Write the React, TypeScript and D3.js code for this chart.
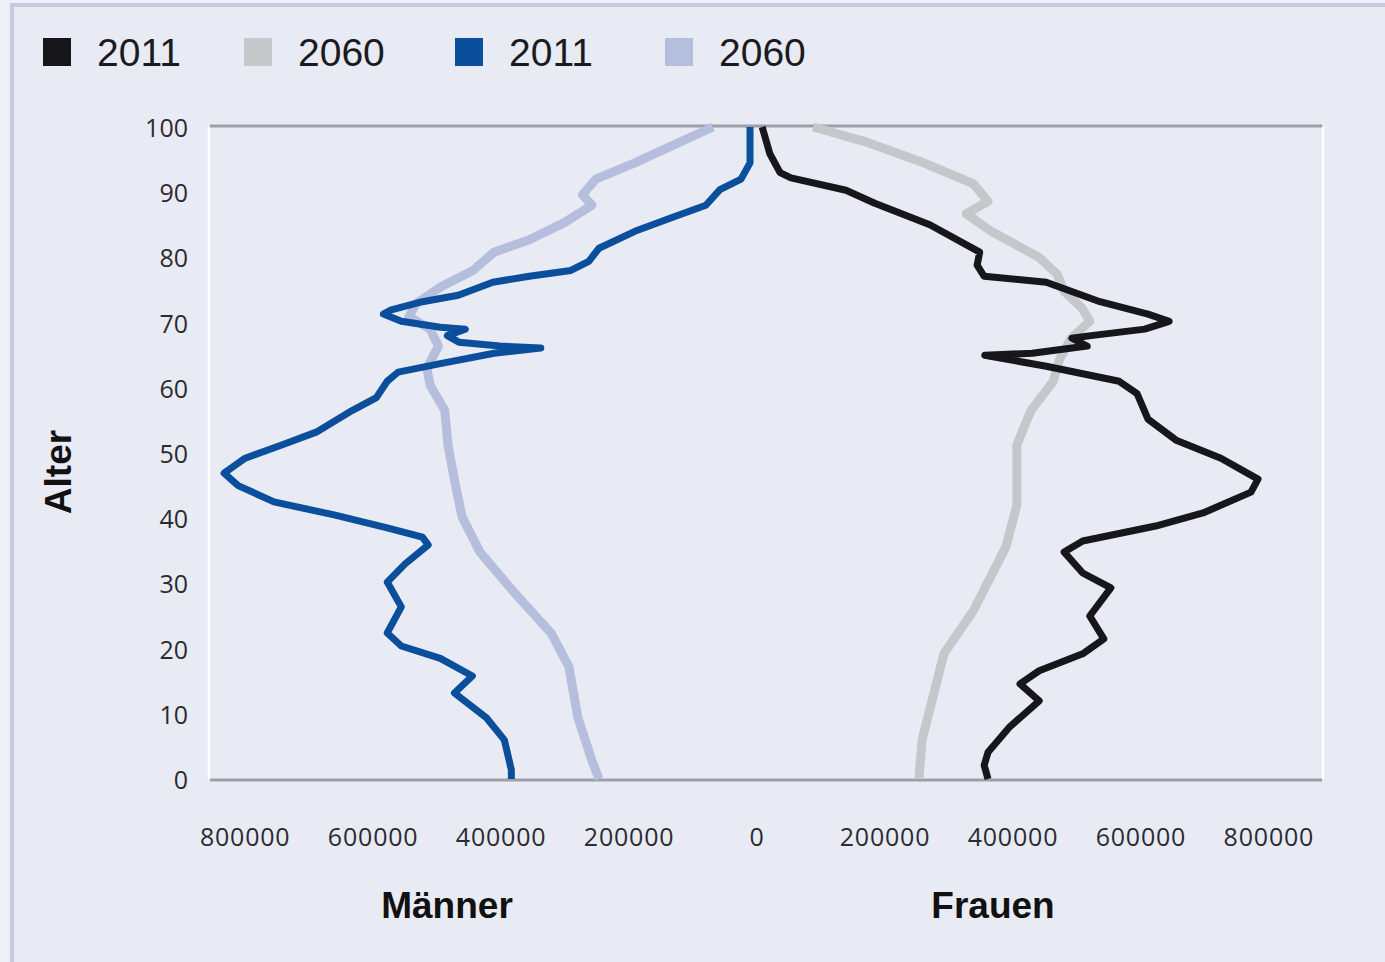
import React from 'react';
import * as d3 from 'd3';

// ---- Data (age, persons) ----
const maenner2011: [number, number][] = [
  [0, 384000], [1.4, 384000], [6, 395000], [9.4, 423000], [13.2, 473000], [15.8, 445000],
  [18.5, 495000], [20.4, 556000], [22.4, 578000], [26.4, 556000], [30.2, 578000], [33, 550000],
  [35.9, 514000], [37.1, 523000], [38.5, 578000], [40.5, 661000], [42.5, 755000], [45, 811000],
  [46.9, 833000], [49.2, 800000], [51.2, 744000], [53.2, 689000], [56.5, 633000], [58.5, 595000],
  [61, 578000], [62.4, 561000], [63.7, 495000], [65.3, 411000], [66.1, 338000], [66.4, 402000],
  [67, 466000], [68, 484000], [69, 456000], [69.3, 495000], [70.2, 556000], [71.3, 584000],
  [71.9, 573000], [73.2, 523000], [74.2, 467000], [76.2, 413000], [77.1, 356000], [78, 291000],
  [79.4, 263000], [81.4, 247000], [84, 191000], [86, 136000], [88, 80000], [90.4, 58000],
  [92, 25000], [94.5, 11000], [100, 11000],
];

const maenner2060: [number, number][] = [
  [0, 247000], [2.8, 258000], [9.4, 280000], [17.2, 294000], [22.4, 322000], [29, 383000],
  [34.8, 433000], [40.2, 461000], [45.4, 472000], [51.2, 483000], [56.5, 488000], [60.4, 511000],
  [63, 516000], [66.4, 498000], [69, 511000], [70.9, 544000], [72.9, 533000], [75.5, 494000],
  [78, 444000], [80.8, 411000], [82.7, 356000], [85.3, 302000], [88, 258000], [89.6, 273000],
  [92, 252000], [94.5, 191000], [97, 136000], [100, 69000],
];

const frauen2011: [number, number][] = [
  [0, 361000], [2.1, 355000], [4.1, 361000], [8, 395000], [12, 441000], [14.6, 411000],
  [16.6, 441000], [19.2, 509000], [21.5, 542000], [25, 520000], [29.3, 553000], [31.6, 509000],
  [34.8, 480000], [36.5, 509000], [38.8, 623000], [40.8, 697000], [44, 772000], [46, 783000],
  [49.2, 725000], [51.9, 656000], [55.2, 611000], [59.1, 594000], [61, 566000], [63.3, 452000],
  [65, 356000], [65.3, 430000], [66.4, 516000], [67.6, 492000], [68, 522000], [69, 606000],
  [70.2, 644000], [71.3, 611000], [73.2, 536000], [76.2, 452000], [77.1, 355000], [78.8, 344000],
  [80.8, 348000], [85, 270000], [88.3, 184000], [90.3, 139000], [92.2, 53000], [93, 36000],
  [95.9, 20000], [100, 8000],
];

const frauen2060: [number, number][] = [
  [0, 253000], [6, 258000], [12.6, 275000], [19.2, 292000], [25.8, 338000], [35.6, 389000],
  [42, 406000], [51.2, 406000], [56.5, 428000], [61, 463000], [64.4, 473000], [67.6, 491000],
  [70.2, 520000], [72.2, 508000], [74.8, 480000], [77.4, 469000], [80, 441000], [84, 366000],
  [86.7, 327000], [88.6, 361000], [91.3, 338000], [94.8, 253000], [97.8, 167000], [100, 88000],
];

const legendLabels = ['2011', '2060', '2011', '2060'];
const legendColors = ['#17161b', '#c5c8ca', '#0b4f9c', '#b6bedd'];
const xTickValues = [-800000, -600000, -400000, -200000, 0, 200000, 400000, 600000, 800000];
const yTickValues = [0, 10, 20, 30, 40, 50, 60, 70, 80, 90, 100];
const sideLabels = ['Männer', 'Frauen'];

const W = 1385;
const H = 962;
const BG = '#e8eaf4';

export default function App() {
  const x = d3.scaleLinear().domain([-855000, 883000]).range([210, 1322]);
  const y = d3.scaleLinear().domain([0, 100]).range([779, 127]);

  const lineFor = (sign: number) =>
    d3
      .line<[number, number]>()
      .x((d) => x(sign * d[1]))
      .y((d) => y(d[0]));

  const menLine = lineFor(-1);
  const womenLine = lineFor(1);

  const series = [
    { d: menLine(maenner2060), color: legendColors[3], w: 9 },
    { d: womenLine(frauen2060), color: legendColors[1], w: 9 },
    { d: menLine(maenner2011), color: legendColors[2], w: 7 },
    { d: womenLine(frauen2011), color: legendColors[0], w: 7 },
  ];

  const legendX = [43, 244, 455, 665];

  return (
    <svg
      width={W}
      height={H}
      style={{ position: 'absolute', left: 0, top: 0, display: 'block' }}
    >
      <rect x={0} y={0} width={W} height={H} fill="#eef0f8" />
      <rect x={12} y={5} width={W + 20} height={H + 20} fill={BG} stroke="#c6cbe1" strokeWidth={4} />

      {/* legend */}
      {legendLabels.map((lab, i) => (
        <g key={i}>
          <rect x={legendX[i]} y={38} width={28} height={28} fill={legendColors[i]} />
          <text
            x={legendX[i] + 54}
            y={66}
            fontFamily="Liberation Sans, Arial, sans-serif"
            fontSize={39}
            fill="#1a1a1f"
          >
            {lab}
          </text>
        </g>
      ))}

      {/* plot frame */}
      <line x1={209} x2={209} y1={y(100)} y2={y(0)} stroke="#ffffff" strokeWidth={2.5} />
      <line x1={1323} x2={1323} y1={y(100)} y2={y(0)} stroke="#ffffff" strokeWidth={2.5} />
      <line x1={210} x2={1322} y1={y(100) - 1} y2={y(100) - 1} stroke="#9b9fa8" strokeWidth={3} />
      <line x1={210} x2={1322} y1={y(0) + 1} y2={y(0) + 1} stroke="#9b9fa8" strokeWidth={3} />

      {/* series */}
      {series.map((s, i) => (
        <path
          key={i}
          d={s.d || ''}
          fill="none"
          stroke={s.color}
          strokeWidth={s.w}
          strokeLinejoin="round"
          strokeLinecap="butt"
        />
      ))}

      {/* y ticks */}
      {yTickValues.map((v) => (
        <text
          key={v}
          x={188}
          y={y(v)}
          dy="0.4em"
          textAnchor="end"
          fontFamily="Open Sans, sans-serif"
          fontSize={25}
          fill="#2b2b30"
        >
          {v}
        </text>
      ))}

      {/* x ticks */}
      {xTickValues.map((v) => (
        <text
          key={v}
          x={x(v)}
          y={846}
          textAnchor="middle"
          fontFamily="Open Sans, sans-serif"
          fontSize={25}
          letterSpacing={0.8}
          fill="#2b2b30"
        >
          {Math.abs(v)}
        </text>
      ))}

      {/* axis titles */}
      <text
        transform="translate(71,472) rotate(-90)"
        textAnchor="middle"
        fontFamily="Liberation Sans, Arial, sans-serif"
        fontWeight="bold"
        fontSize={37}
        fill="#111"
      >
        Alter
      </text>
      <text
        x={447}
        y={918}
        textAnchor="middle"
        fontFamily="Liberation Sans, Arial, sans-serif"
        fontWeight="bold"
        fontSize={37}
        fill="#111"
      >
        {sideLabels[0]}
      </text>
      <text
        x={993}
        y={918}
        textAnchor="middle"
        fontFamily="Liberation Sans, Arial, sans-serif"
        fontWeight="bold"
        fontSize={37}
        fill="#111"
      >
        {sideLabels[1]}
      </text>
    </svg>
  );
}
